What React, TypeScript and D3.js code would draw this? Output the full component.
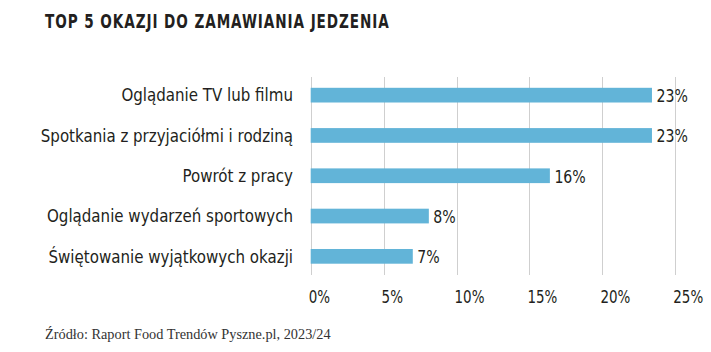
import React from "react";
import * as d3 from "d3";

const title = "TOP 5 OKAZJI DO ZAMAWIANIA JEDZENIA";
const source = "Źródło: Raport Food Trendów Pyszne.pl, 2023/24";
const categories = [
  "Oglądanie TV lub filmu",
  "Spotkania z przyjaciółmi i rodziną",
  "Powrót z pracy",
  "Oglądanie wydarzeń sportowych",
  "Świętowanie wyjątkowych okazji",
];
const values = [23.4, 23.4, 16.4, 8.1, 7.0];
const ticks = [0, 5, 10, 15, 20, 25];

const W = 711;
const H = 352;
const FONT = "'DejaVu Sans Condensed', 'DejaVu Sans', sans-serif";

export default function App() {
  const x = d3.scaleLinear().domain([0, 25]).range([310.7, 675.3]);
  const y = d3
    .scaleBand<string>()
    .domain(categories)
    .range([75, 276.5])
    .paddingInner(0.635)
    .paddingOuter(0.3175);
  const fmt = (v: number) => d3.format(".0f")(v) + "%";

  return (
    <svg
      width={W}
      height={H}
      style={{ position: "absolute", left: 0, top: 0, background: "#fff" }}
    >
      <text
        transform="translate(45,28) scale(0.775,1)"
        fontFamily={FONT}
        fontWeight={700}
        fontSize={19.5}
        letterSpacing={1.2}
        fill="#231f20"
      >
        {title}
      </text>
      {ticks.map((t) => (
        <g key={t}>
          <line
            x1={Math.round(x(t)) + 0.5}
            x2={Math.round(x(t)) + 0.5}
            y1={77}
            y2={275}
            stroke="#cfcfcf"
            strokeWidth={1}
          />
          <text
            transform={`translate(${x(t) - 2},302.5) scale(0.88,1)`}
            fontFamily={FONT}
            fontSize={17}
            fill="#231f20"
          >
            {t + "%"}
          </text>
        </g>
      ))}
      {categories.map((c, i) => (
        <g key={c}>
          <rect
            x={x(0)}
            y={y(c)!}
            width={x(values[i]) - x(0)}
            height={y.bandwidth()}
            fill="#62b4d8"
          />
          <text
            transform={`translate(293,${y(c)! + y.bandwidth() / 2 + 6.3}) scale(0.93,1)`}
            textAnchor="end"
            fontFamily={FONT}
            fontSize={18}
            fill="#231f20"
          >
            {c}
          </text>
          <text
            transform={`translate(${x(values[i]) + 4.5},${y(c)! + y.bandwidth() / 2 + 6.8}) scale(0.85,1)`}
            fontFamily={FONT}
            fontSize={18.5}
            fill="#231f20"
          >
            {fmt(values[i])}
          </text>
        </g>
      ))}
      <text
        x={45}
        y={339}
        fontFamily="'Liberation Serif', 'DejaVu Serif', serif"
        fontSize={14.3}
        fill="#333"
      >
        {source}
      </text>
    </svg>
  );
}
